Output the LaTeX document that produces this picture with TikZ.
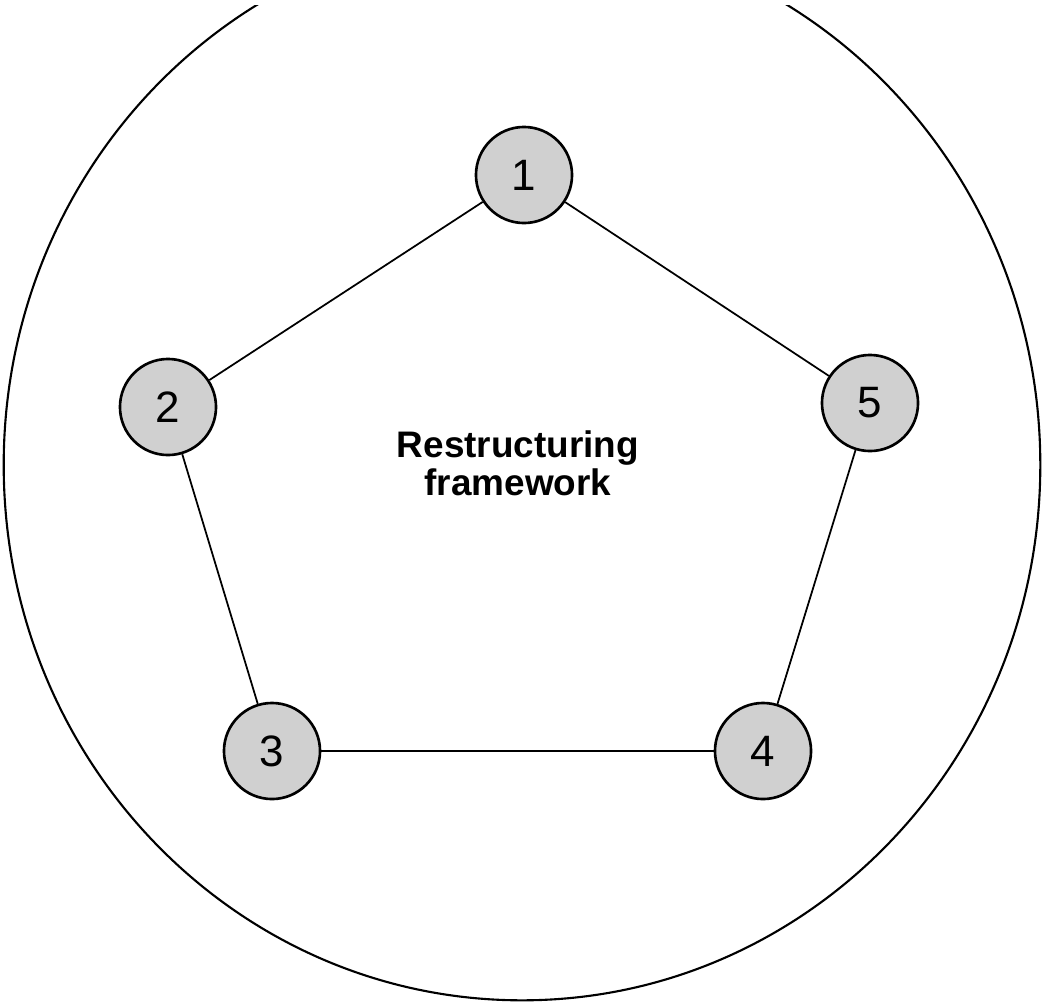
\documentclass[tikz,border=0pt]{standalone}
\usepackage{fontspec}
\setmainfont{Liberation Sans}
\setsansfont{Liberation Sans}
\usetikzlibrary{shapes.geometric}
\definecolor{ink}{HTML}{000000}
\definecolor{stepfill}{HTML}{D0D0D0}
\tikzset{
  font=\sffamily,
  %
  stepnode/.style={
    circle, draw=ink, line width=0.75pt, fill=stepfill, inner sep=0pt,
    minimum size=0.96cm, text=ink, font=\sffamily\fontsize{12.5}{14}\selectfont,
  },
  %
  link/.style={draw=ink, line width=0.5pt},
  frame/.style={draw=ink, line width=0.6pt},
  %
  title/.style={font=\sffamily\bfseries\fontsize{10.5}{10.7}\selectfont,
                text=ink, align=center, inner sep=0pt},
}

\begin{document}
\begin{tikzpicture}[x=0.01cm, y=-0.01cm]

  \useasboundingbox (0,0) rectangle (1043,1003);

  % --- the outer ring, cut at the top --------------------------------------
  \begin{scope}
    \clip (0,5) rectangle (1043,1003);
    \draw[frame] (522,465) ellipse [x radius=5.18cm, y radius=5.35cm];
  \end{scope}

  % --- the five steps ------------------------------------------------------
  \node[stepnode] (s1) at (524,175) {1};
  \node[stepnode] (s2) at (168,407) {2};
  \node[stepnode] (s3) at (272,751) {3};
  \node[stepnode] (s4) at (763,751) {4};
  \node[stepnode] (s5) at (870,403) {5};

  \draw[link] (s1) -- (s2);
  \draw[link] (s2) -- (s3);
  \draw[link] (s3) -- (s4);
  \draw[link] (s4) -- (s5);
  \draw[link] (s5) -- (s1);

  \node[title] (frame) at (518,463) {Restructuring\\framework};

\end{tikzpicture}
\end{document}
